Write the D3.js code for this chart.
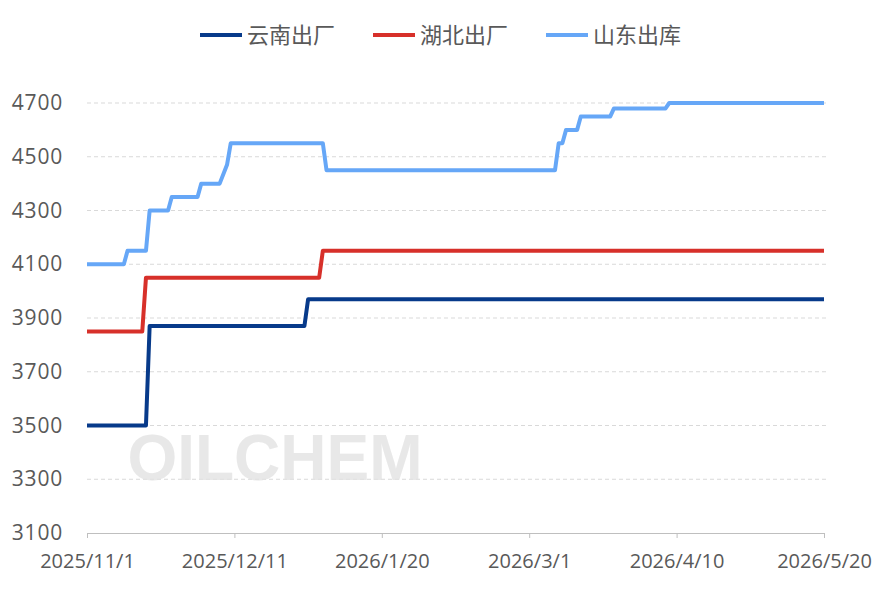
<!DOCTYPE html><html><head><meta charset="utf-8">
<script src="https://cdn.jsdelivr.net/npm/d3@7"></script>
<style>body{margin:0;background:#fff}</style></head><body><svg id="c" width="887" height="591"></svg>
<script>
const seriesNames=["云南出厂","湖北出厂","山东出库"];
const colors=["#073A8A","#D7302A","#66A7F7"];
const yunnanDates=["2025-11-01","2025-11-17","2025-11-18","2025-12-30","2025-12-31","2026-05-20"];
const yunnanVals=[3500,3500,3870,3870,3970,3970];
const hubeiDates=["2025-11-01","2025-11-16","2025-11-17","2026-01-03","2026-01-04","2026-05-20"];
const hubeiVals=[3850,3850,4050,4050,4150,4150];
const shandongDates=["2025-11-01","2025-11-11","2025-11-12","2025-11-17","2025-11-18","2025-11-23","2025-11-24","2025-12-01","2025-12-02","2025-12-07","2025-12-09","2025-12-10","2026-01-04","2026-01-05","2026-03-08","2026-03-09","2026-03-10","2026-03-11","2026-03-14","2026-03-15","2026-03-23","2026-03-24","2026-04-07","2026-04-08","2026-05-20"];
const shandongVals=[4100,4100,4150,4150,4300,4300,4350,4350,4400,4400,4470,4550,4550,4450,4450,4550,4550,4600,4600,4650,4650,4680,4680,4700,4700];
const xTicks=["2025-11-01","2025-12-11","2026-01-20","2026-03-01","2026-04-10","2026-05-20"];
const yTicks=[3100,3300,3500,3700,3900,4100,4300,4500,4700];
const P=d3.utcParse("%Y-%m-%d");
const svg=d3.select("#c");
const x=d3.scaleUtc().domain([P("2025-11-01"),P("2026-05-20")]).range([87,824]);
const y=d3.scaleLinear().domain([3100,4700]).range([533,103]);
const font="'Noto Sans CJK SC','Liberation Sans',sans-serif";
svg.append("g").selectAll("line").data(yTicks.slice(1)).join("line")
 .attr("x1",87).attr("x2",828).attr("y1",d=>y(d)).attr("y2",d=>y(d))
 .attr("stroke","#d9d9d9").attr("stroke-dasharray","4,3");
svg.append("g").selectAll("text").data(yTicks).join("text")
 .attr("x",63).attr("y",d=>y(d)+7).attr("text-anchor","end").attr("font-size",21).attr("letter-spacing",0.8)
 .attr("fill","#595959").attr("font-family","'Open Sans',sans-serif").text(d=>d);
const ax=svg.append("g").attr("transform","translate(0,533)")
 .call(d3.axisBottom(x).tickValues(xTicks.map(P)).tickSize(5).tickFormat(d3.utcFormat("%Y/%-m/%-d")));
ax.select(".domain").attr("stroke","#bfbfbf");
ax.selectAll(".tick line").attr("stroke","#bfbfbf");
ax.selectAll("text").attr("font-size",20).attr("fill","#595959").attr("dy","1.35em").attr("font-family","'Open Sans',sans-serif");
svg.append("text").attr("x",275).attr("y",480).attr("text-anchor","middle").attr("font-size",64).attr("font-weight","bold")
 .attr("font-family","'Liberation Sans',sans-serif").attr("fill","#e3e3e3").attr("opacity",0.8).text("OILCHEM");
const data=[[yunnanDates,yunnanVals],[hubeiDates,hubeiVals],[shandongDates,shandongVals]];
const line=d3.line().x(d=>x(P(d[0]))).y(d=>y(d[1]));
[2,1,0].forEach(i=>{const [ds,vs]=data[i];
 svg.append("path").attr("d",line(ds.map((d,k)=>[d,vs[k]]))).attr("fill","none").attr("stroke",colors[i]).attr("stroke-width",4).attr("stroke-linejoin","round");});
const lx=[200,373,546];
seriesNames.forEach((n,i)=>{
 svg.append("line").attr("x1",lx[i]).attr("x2",lx[i]+42).attr("y1",35).attr("y2",35).attr("stroke",colors[i]).attr("stroke-width",4);
 svg.append("text").attr("x",lx[i]+47).attr("y",43).attr("font-size",22).attr("fill","#595959").attr("font-family",font).text(n);
});
</script></body></html>
